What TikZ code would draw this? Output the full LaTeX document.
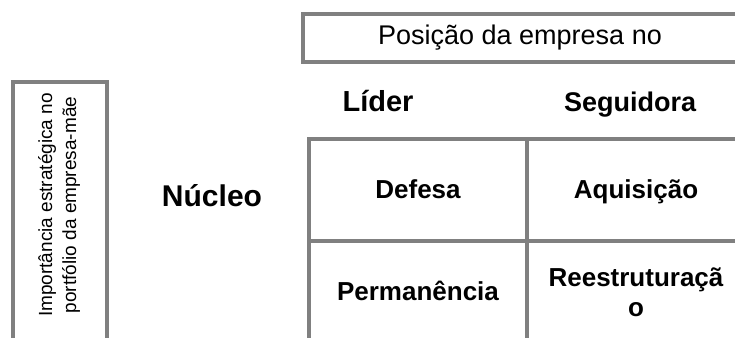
\documentclass[tikz,border=0pt]{standalone}
\usepackage{fontspec}
\setmainfont{Liberation Sans}
\usetikzlibrary{positioning}
\definecolor{framegray}{RGB}{128,128,128}

\begin{document}
\begin{tikzpicture}
            [x=1pt, y=-1pt, node distance=0pt,
            titlebox/.style={rectangle, draw=framegray, line width=4pt, outer sep=0pt},
            cell/.style={rectangle, align=center, draw=framegray, line width=4.5pt, outer sep=0pt,
                         minimum width=218pt, minimum height=102pt,
                         font=\fontsize{26}{30}\selectfont\bfseries},
            oneline/.style={text height=21pt, text depth=4pt},
            heading/.style={anchor=base, font=\fontsize{29}{34}\selectfont\bfseries}]

            \useasboundingbox (0,0) rectangle (735,337);
            \clip (0,0) rectangle (735,337);

            \node[titlebox,minimum width=434pt,minimum height=48pt,
                  font=\fontsize{27}{32}\selectfont] (posicao) at (520,38) {Posição da empresa no};
            \node[titlebox,minimum width=94.5pt,minimum height=290pt] (lado) at (59.75,227) {};
            \node[rotate=90,align=center,font=\fontsize{19}{24}\selectfont] (importancia) at (59,205)
                 {Importância estratégica no\\portfólio da empresa-mãe};

            \node[heading] (lider) at (378,111) {Líder};
            \node[heading,font=\fontsize{27}{32}\selectfont\bfseries] (seguidora) at (630,111) {Seguidora};
            \node[heading,font=\fontsize{30}{36}\selectfont\bfseries] (nucleo) at (212,206) {Núcleo};

            \node[cell,oneline] (defesa) at (418,190) {Defesa};
            \node[cell,oneline] (aquisicao) [right = of defesa] {Aquisição};
            \node[cell,oneline] (permanencia) [below = of defesa] {Permanência};
            \node[cell] (reestruturacao) [below = of aquisicao] {Reestruturaçã\\o};

        \end{tikzpicture}
\end{document}
